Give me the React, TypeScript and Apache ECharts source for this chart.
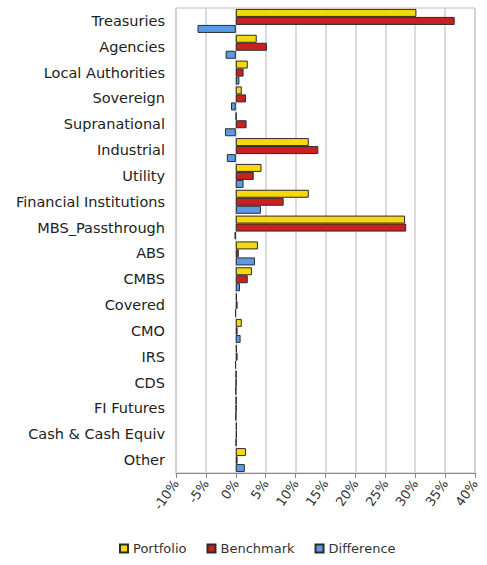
import React, { useEffect, useRef } from "react";
import * as echarts from "echarts";

const categories = [
  "Treasuries", "Agencies", "Local Authorities", "Sovereign", "Supranational",
  "Industrial", "Utility", "Financial Institutions", "MBS_Passthrough", "ABS",
  "CMBS", "Covered", "CMO", "IRS", "CDS", "FI Futures", "Cash & Cash Equiv", "Other",
];
const portfolio = [30.2, 3.5, 2.0, 1.0, 0.1, 12.2, 4.3, 12.2, 28.3, 3.7, 2.7, 0.2, 1.0, 0.2, 0.1, 0.1, 0.2, 1.7];
const benchmark = [36.6, 5.2, 1.3, 1.7, 1.8, 13.8, 3.0, 8.0, 28.5, 0.5, 2.0, 0.3, 0.3, 0.3, 0.1, 0.1, 0.2, 0.3];
const difference = [-6.4, -1.7, 0.6, -0.8, -1.8, -1.5, 1.3, 4.2, -0.2, 3.2, 0.7, -0.1, 0.8, -0.1, 0.0, 0.0, 0.1, 1.5];
const seriesNames = ["Portfolio", "Benchmark", "Difference"];
const colors = ["#f5d90a", "#cc1f1f", "#5b9be6"];

export default function App() {
  const ref = useRef<HTMLDivElement>(null);
  useEffect(() => {
    document.body.style.margin = "0";
    const chart = echarts.init(ref.current!, null, { renderer: "svg" });
    const data = [portfolio, benchmark, difference];
    chart.setOption({
      animation: false,
      backgroundColor: "#ffffff",
      textStyle: { fontFamily: "DejaVu Sans" },
      grid: { left: 176, right: 12, top: 8, bottom: 92, show: true, borderColor: "#bdbdbd", borderWidth: 1 },
      legend: {
        bottom: 5,
        left: 114,
        itemWidth: 8,
        itemHeight: 8,
        itemGap: 20,
        icon: "rect",
        textStyle: { fontSize: 13, color: "#333", fontFamily: "DejaVu Sans" },
        data: seriesNames,
      },
      xAxis: {
        type: "value",
        min: -10,
        max: 40,
        interval: 5,
        axisLine: { show: true, lineStyle: { color: "#888" } },
        axisTick: { show: true, lineStyle: { color: "#888" } },
        splitLine: { show: true, lineStyle: { color: "#cfcfcf", width: 1.5 } },
        axisLabel: {
          formatter: "{value}%",
          rotate: 55,
          fontSize: 13,
          color: "#333",
          margin: 8,
          fontFamily: "DejaVu Sans",
        },
      },
      yAxis: {
        type: "category",
        data: categories,
        inverse: true,
        axisLine: { show: false },
        axisTick: { show: false },
        axisLabel: { fontSize: 14.5, color: "#222", margin: 11, fontFamily: "DejaVu Sans" },
      },
      series: seriesNames.map((name, i) => ({
        name,
        type: "bar",
        data: data[i],
        barWidth: 8,
        barGap: "0%",
        itemStyle: { color: colors[i], borderColor: "#2b2b2b", borderWidth: 1 },
      })),
    });
    return () => chart.dispose();
  }, []);
  return <div ref={ref} style={{ width: 487, height: 565 }} />;
}
